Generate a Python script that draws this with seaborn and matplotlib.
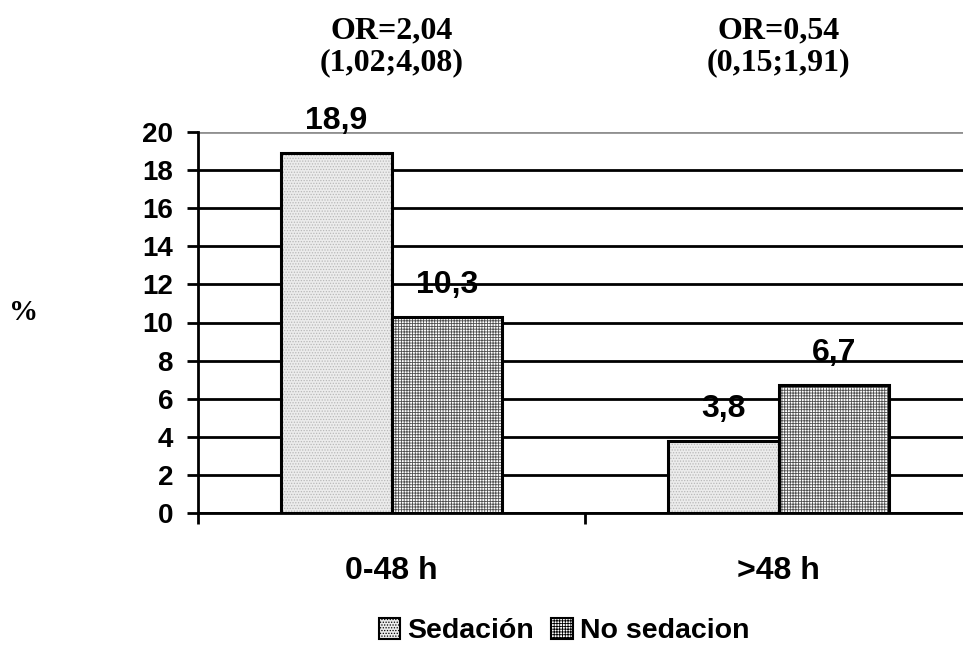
import matplotlib
matplotlib.use("Agg")
import matplotlib.pyplot as plt
from matplotlib.patches import Rectangle, Patch
import seaborn as sns
import pandas as pd

categories = ["0-48 h", ">48 h"]
groups = ["Sedación", "No sedacion"]
sedacion = [18.9, 3.8]
no_sedacion = [10.3, 6.7]
or_labels = ["OR=2,04\n(1,02;4,08)", "OR=0,54\n(0,15;1,91)"]
yticks = [0, 2, 4, 6, 8, 10, 12, 14, 16, 18, 20]

df = pd.DataFrame({
    "cat": categories * 2,
    "grp": [groups[0]] * 2 + [groups[1]] * 2,
    "val": sedacion + no_sedacion,
})

sns.set_theme(style="white")
plt.rcParams["font.family"] = ["Liberation Sans", "DejaVu Sans"]
plt.rcParams["hatch.linewidth"] = 0.6
plt.rcParams["text.color"] = "black"
plt.rcParams["xtick.color"] = "black"
plt.rcParams["ytick.color"] = "black"
plt.rcParams["axes.labelcolor"] = "black"

fig = plt.figure(figsize=(9.63, 6.48), dpi=100)
ax = fig.add_axes([198 / 963, 135 / 648, 774 / 963, 381 / 648])

face = {"Sedación": "#ececec", "No sedacion": "#ffffff"}
hatch = {"Sedación": "......", "No sedacion": "++++++"}
hcol = {"Sedación": "#b8b8b8", "No sedacion": "#505050"}

sns.barplot(data=df, x="cat", y="val", hue="grp", order=categories,
            hue_order=groups, palette=face, width=0.57, gap=0,
            linewidth=0, ax=ax, legend=False, zorder=3)

for g, cont in zip(groups, ax.containers):
    for p in cont:
        p.set_hatch(hatch[g])
        p.set_edgecolor(hcol[g])
        p.set_linewidth(0)
        ax.add_patch(Rectangle(p.get_xy(), p.get_width(), p.get_height(),
                               fill=False, ec="black", lw=2.2, zorder=4))
        v = p.get_height()
        ax.annotate(f"{v:.1f}".replace(".", ","),
                    (p.get_x() + p.get_width() / 2, v),
                    xytext=(0, 23), textcoords="offset points",
                    ha="center", va="center", fontsize=23, color="black",
                    fontweight="bold", zorder=5, annotation_clip=False)

ax.set_ylim(0, 20)
ax.set_xlim(-0.5, 1.5)
ax.set_yticks(yticks)
ax.set_yticklabels([str(t) for t in yticks], fontsize=20, fontweight="bold")
for t in yticks:
    ax.axhline(t, color="#909090" if t == 20 else "black", lw=2, zorder=1)

ax.set_xticks(range(len(categories)))
ax.set_xticklabels(categories, fontsize=23, fontweight="bold")
ax.set_xticks([-0.5, 0.5, 1.5], minor=True)
ax.tick_params(axis="x", which="major", length=0, pad=31)
ax.tick_params(axis="x", which="minor", length=8, width=2, color="black",
               direction="out", bottom=True)
ax.tick_params(axis="y", length=8, width=2, color="black", direction="out",
               left=True, pad=10)

for s in ["top", "right"]:
    ax.spines[s].set_visible(False)
for s in ["left", "bottom"]:
    ax.spines[s].set_color("black")
    ax.spines[s].set_linewidth(2)
    ax.spines[s].set_zorder(6)

ax.set_xlabel("")
ax.set_ylabel("")

for i, txt in enumerate(or_labels):
    x_fig = (198 + (i + 0.5) * 387) / 963
    fig.text(x_fig, 1 - 47 / 648, txt, ha="center", va="center",
             fontsize=23, fontweight="bold", family="Liberation Serif",
             linespacing=1.1, color="black")

fig.text(24 / 963, 1 - 313 / 648, "%", ha="center", va="center",
         fontsize=21, fontweight="bold", family="Liberation Serif",
         color="black")

handles = [Patch(facecolor=face[g], hatch=hatch[g], edgecolor=hcol[g],
                 linewidth=0) for g in groups]
leg = fig.legend(handles, groups, loc="center", bbox_to_anchor=(564 / 963, 17 / 648),
                 ncol=2, frameon=False, handlelength=0.75, handleheight=0.75,
                 handletextpad=0.25, columnspacing=0.6,
                 prop={"size": 20.5, "weight": "bold"})
for h in leg.legend_handles:
    h.set_linewidth(1.5)
    h.set_edgecolor("black")
for t in leg.get_texts():
    t.set_color("black")

fig.savefig("out.png", dpi=100)
